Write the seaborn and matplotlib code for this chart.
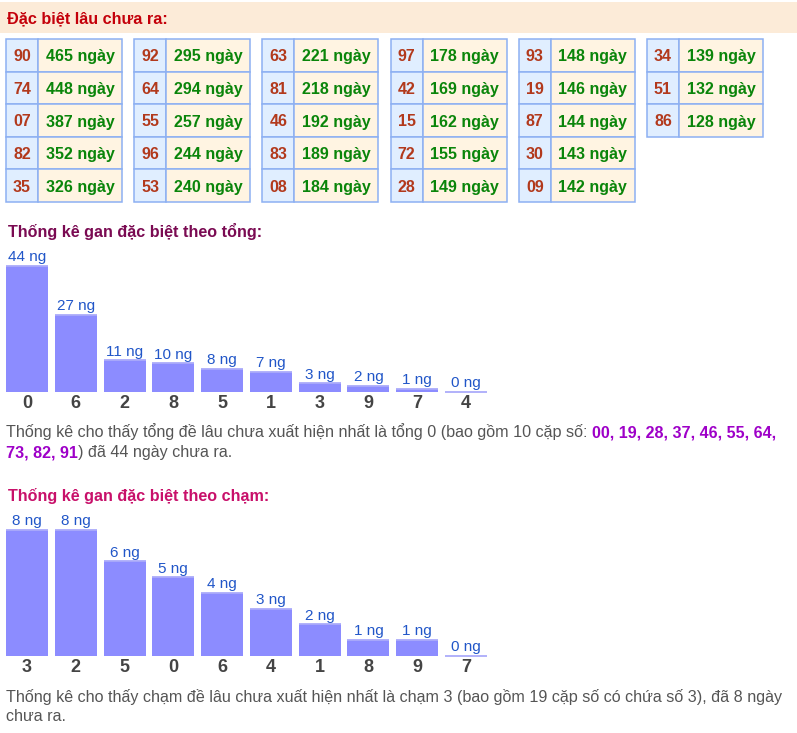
import numpy as np
import pandas as pd
import matplotlib
matplotlib.use('Agg')
import matplotlib.pyplot as plt
import seaborn as sns
from matplotlib.patches import Rectangle

# ---------------- data ----------------
gan_numbers = ["90", "74", "07", "82", "35",
               "92", "64", "55", "96", "53",
               "63", "81", "46", "83", "08",
               "97", "42", "15", "72", "28",
               "93", "19", "87", "30", "09",
               "34", "51", "86"]
gan_days = [465, 448, 387, 352, 326,
            295, 294, 257, 244, 240,
            221, 218, 192, 189, 184,
            178, 169, 162, 155, 149,
            148, 146, 144, 143, 142,
            139, 132, 128]

tong_labels = ["0", "6", "2", "8", "5", "1", "3", "9", "7", "4"]
tong_values = [44, 27, 11, 10, 8, 7, 3, 2, 1, 0]
cham_labels = ["3", "2", "5", "0", "6", "4", "1", "8", "9", "7"]
cham_values = [8, 8, 6, 5, 4, 3, 2, 1, 1, 0]

title_main = "Đặc biệt lâu chưa ra:"
title_tong = "Thống kê gan đặc biệt theo tổng:"
title_cham = "Thống kê gan đặc biệt theo chạm:"

# ---------------- setup ----------------
sns.set_theme(style="white")
plt.rcParams['font.family'] = ['Liberation Sans', 'DejaVu Sans']

W, H = 797, 733
PX = 0.72  # points per pixel at dpi 100
fig = plt.figure(figsize=(W / 100, H / 100), dpi=100)
fig.patch.set_facecolor('white')
bg = fig.add_axes([0, 0, 1, 1])
bg.set_xlim(0, W)
bg.set_ylim(H, 0)
bg.axis('off')
renderer = fig.canvas.get_renderer()

GRAY = '#555555'
PURPLE = '#9E00C8'

# ---------------- header ----------------
bg.add_patch(Rectangle((0, 2), W, 31, facecolor='#FCEBD8', edgecolor='none'))
bg.text(7, 23, title_main, color='#C4000A', fontweight='bold', fontsize=16.2 * PX,
        va='baseline', ha='left')

# ---------------- table ----------------
block_pitch = 128.2
block_w = 116
num_w = 32
row_top = 39
row_h = 32.6
for i, (num, days) in enumerate(zip(gan_numbers, gan_days)):
    b, r = divmod(i, 5)
    x0 = 6 + b * block_pitch
    y0 = row_top + r * row_h
    bg.add_patch(Rectangle((x0, y0), num_w, row_h, facecolor='#E0EEFF',
                           edgecolor='#8DB0F2', linewidth=1.1))
    bg.add_patch(Rectangle((x0 + num_w, y0), block_w - num_w, row_h, facecolor='#FFF4E2',
                           edgecolor='#8DB0F2', linewidth=1.1))
    yb = y0 + row_h / 2 + 6.0
    bg.text(x0 + num_w / 2, yb, num, color='#B2391C', fontsize=16 * PX,
            ha='center', va='baseline', fontweight='bold')
    bg.text(x0 + num_w + (block_w - num_w) / 2, yb, f"{days} ngày", color='#0A850A',
            fontweight='bold', fontsize=16 * PX, ha='center', va='baseline')


# ---------------- rich text helper ----------------
def rich_line(x, y, segments, size_px):
    for txt, color, weight in segments:
        stripped = txt.rstrip(' ')
        n_trail = len(txt) - len(stripped)
        t = bg.text(x, y, stripped, color=color, fontweight=weight,
                    fontsize=size_px * PX, va='baseline', ha='left')
        bb = t.get_window_extent(renderer)
        x = bb.x1 + n_trail * 0.278 * size_px


# ---------------- bar charts ----------------
def bar_chart(labels, values, base_y, top_y):
    pitch = 48.78
    left = 27 - pitch / 2
    width = pitch * len(labels)
    h = base_y - top_y
    ax = fig.add_axes([left / W, (H - base_y) / H, width / W, h / H])
    df = pd.DataFrame({'k': labels, 'v': values})
    sns.barplot(data=df, x='k', y='v', order=labels, color='#8C8CFF', saturation=1,
                width=0.86, ax=ax, linewidth=0, edgecolor='none')
    ax.set_xlim(-0.5, len(labels) - 0.5)
    ax.set_ylim(0, max(values))
    for p, v in zip(ax.patches, values):
        x0 = p.get_x()
        x1 = x0 + p.get_width()
        top = p.get_height()
        ax.plot([x0, x1], [top, top], color='#ABABFA', lw=1.3, solid_capstyle='butt',
                clip_on=False)
        ax.annotate(f"{v} ng", (x0 + p.get_width() / 2, top), xytext=(0, 4.5),
                    textcoords='offset pixels', ha='center', va='baseline',
                    color='#2156C8', fontsize=15.3 * PX, annotation_clip=False)
    ax.set_xlabel('')
    ax.set_ylabel('')
    ax.set_yticks([])
    ax.tick_params(axis='x', length=0, pad=2.2, labelsize=18 * PX, labelcolor='#444444')
    for lbl in ax.get_xticklabels():
        lbl.set_fontweight('bold')
    for s in ax.spines.values():
        s.set_visible(False)
    ax.patch.set_alpha(0)
    return ax


# section: tong
bg.text(8, 237, title_tong, color='#7A0A52', fontweight='bold', fontsize=16.1 * PX,
        va='baseline', ha='left')
bar_chart(tong_labels, tong_values, 391.7, 266)
rich_line(6, 437, [("Thống kê cho thấy tổng đề lâu chưa xuất hiện nhất là tổng 0 (bao gồm 10 cặp số: ", GRAY, 'normal'),
                   ("00, 19, 28, 37, 46, 55, 64,", PURPLE, 'bold')], 16.1)
rich_line(6, 457, [("73, 82, 91", PURPLE, 'bold'),
                   (") đã 44 ngày chưa ra.", GRAY, 'normal')], 16.1)

# section: cham
bg.text(8, 501, title_cham, color='#C8106A', fontweight='bold', fontsize=16.1 * PX,
        va='baseline', ha='left')
bar_chart(cham_labels, cham_values, 655.7, 530)
rich_line(6, 702, [("Thống kê cho thấy chạm đề lâu chưa xuất hiện nhất là chạm 3 (bao gồm 19 cặp số có chứa số 3), đã 8 ngày", GRAY, 'normal')], 16.1)
rich_line(6, 721, [("chưa ra.", GRAY, 'normal')], 16.1)

fig.savefig('out.png', dpi=100, facecolor='white')
